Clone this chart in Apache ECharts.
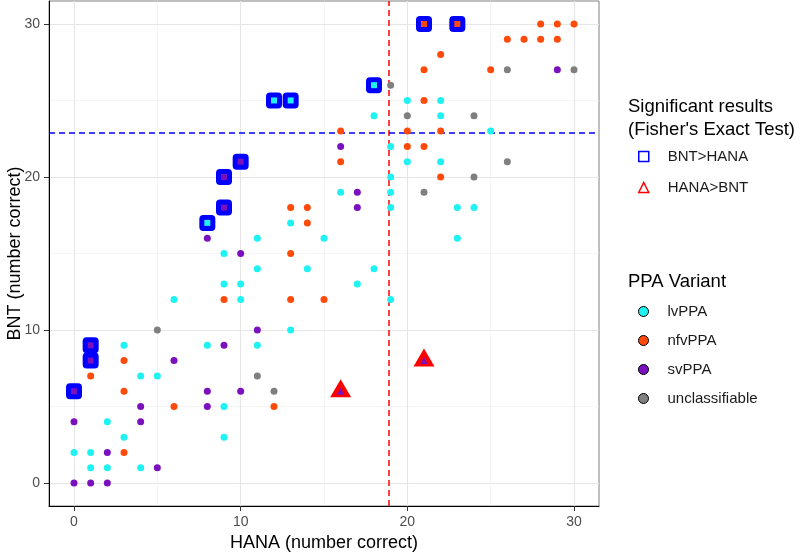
<!DOCTYPE html>
<html>
<head>
<meta charset="utf-8">
<script src="https://cdn.jsdelivr.net/npm/echarts@6/dist/echarts.min.js"></script>
<style>html,body{margin:0;padding:0;background:#fff}#c{width:800px;height:553px}</style>
</head>
<body>
<div id="c"></div>
<script>
// ---- data (HANA correct, BNT correct) ----
const lvPPA = [[12,25],[13,25],[8,17],[18,26],[20,25],[22,25],[18,24],[22,24],[25,23],[19,22],[20,21],[22,21],[19,20],[16,19],[19,19],[19,18],[23,18],[24,18],[13,17],[15,16],[23,16],[11,16],[9,15],[11,14],[14,14],[18,14],[9,13],[10,13],[17,13],[6,12],[10,12],[19,12],[13,10],[3,9],[8,9],[11,9],[4,7],[5,7],[9,5],[2,4],[3,3],[9,3],[0,2],[1,2],[1,1],[2,1],[4,1]];
const nfvPPA = [[21,30],[23,30],[28,30],[29,30],[30,30],[26,29],[27,29],[28,29],[29,29],[22,28],[21,27],[25,27],[21,25],[16,23],[20,23],[22,23],[20,22],[21,22],[16,21],[22,20],[13,18],[14,18],[14,17],[13,15],[9,12],[13,12],[15,12],[3,8],[1,7],[3,6],[6,5],[12,5],[3,2]];
const svPPA = [[10,21],[9,20],[9,18],[1,9],[1,8],[0,6],[16,6],[21,8],[29,27],[16,22],[17,19],[17,18],[8,16],[10,15],[11,10],[9,9],[6,8],[8,6],[10,6],[4,5],[8,5],[0,4],[4,4],[2,2],[5,1],[0,0],[1,0],[2,0]];
const unclassifiable = [[26,27],[30,27],[19,26],[20,24],[24,24],[26,21],[24,20],[21,19],[5,10],[11,7],[12,6]];
const sigBNT = [[0,6],[1,8],[1,9],[8,17],[9,18],[9,20],[10,21],[12,25],[13,25],[18,26],[21,30],[23,30]];
const sigHANA = [[16,6],[21,8]];
const hanaCut = 18.9;
const bntCut = 22.9;
const tickValues = [0,10,20,30];
const gridValues = [0,5,10,15,20,25,30];

const variantNames = ['lvPPA','nfvPPA','svPPA','unclassifiable'];
const variantData = [lvPPA, nfvPPA, svPPA, unclassifiable];
const variantColors = ['#1EF2F2','#FF4A0A','#7A10BE','#7F7F7F'];

const FONT = 'Liberation Sans, Arial, sans-serif';
const has = (list, p) => list.some(q => q[0] === p[0] && q[1] === p[1]);

function itemsFor(list) {
  return list.map(p => {
    if (has(sigBNT, p)) return { value: p, symbol: 'rect', symbolSize: 6 };
    if (has(sigHANA, p)) return { value: p, symbol: 'triangle', symbolSize: 7 };
    return { value: p };
  });
}

const gridLines = [];
gridValues.forEach(v => {
  const major = tickValues.includes(v);
  const ls = { color: major ? '#E6E6E6' : '#F0F0F0', width: major ? 1.2 : 0.7, type: 'solid' };
  gridLines.push({ xAxis: v, lineStyle: ls });
  gridLines.push({ yAxis: v, lineStyle: ls });
});

const series = [
  { name: 'grid', type: 'scatter', data: [], z: 0, silent: true,
    markLine: { z: 0, silent: true, symbol: ['none','none'], label: { show: false }, animation: false, data: gridLines } },
  { name: 'refs', type: 'scatter', data: [], z: 0, silent: true,
    markLine: { z: 1, silent: true, symbol: ['none','none'], label: { show: false }, animation: false,
      data: [
        { xAxis: hanaCut, lineStyle: { color: '#FF0000', width: 1.5, type: [6,4] } },
        { yAxis: bntCut, lineStyle: { color: '#0000FF', width: 1.5, type: [6,4] } }
      ] } },
  { name: 'BNT>HANA', type: 'scatter', data: sigBNT, symbol: 'roundRect', symbolSize: 16, z: 2,
    itemStyle: { color: '#0000FF', opacity: 1 } },
  { name: 'HANA>BNT', type: 'scatter', data: sigHANA, symbol: 'triangle', symbolSize: [21,18], symbolOffset: [0,-3], z: 2,
    itemStyle: { color: '#FF0000', opacity: 1 } },
];
variantNames.forEach((n, i) => {
  series.push({ name: n, type: 'scatter', data: itemsFor(variantData[i]), symbol: 'circle', symbolSize: 7, z: 3,
    itemStyle: { color: variantColors[i], opacity: 1 } });
});

const legendText = { fontFamily: FONT, fontSize: 15, color: '#1A1A1A', padding: [0,0,0,14] };

const option = {
  animation: false,
  grid: { left: 49, right: 201, top: 1, bottom: 47, containLabel: false, outerBoundsMode: 'none',
    show: true, borderColor: '#7F7F7F', borderWidth: 1, backgroundColor: '#fff' },
  xAxis: {
    type: 'value', min: -1.5, max: 31.5,
    name: 'HANA (number correct)', nameLocation: 'middle', nameGap: 27,
    nameTextStyle: { fontFamily: FONT, fontSize: 18, color: '#000' },
    axisLine: { show: true, onZero: false, lineStyle: { color: '#000', width: 1 } },
    axisTick: { show: true, customValues: tickValues, length: 5, lineStyle: { color: '#333' } },
    axisLabel: { customValues: tickValues, fontFamily: FONT, fontSize: 14, color: '#4D4D4D', margin: 9 },
    splitLine: { show: false }
  },
  yAxis: {
    type: 'value', min: -1.5, max: 31.5,
    name: 'BNT (number correct)', nameLocation: 'middle', nameGap: 25, nameRotate: 90, nameMoveOverlap: false,
    nameTextStyle: { fontFamily: FONT, fontSize: 18, color: '#000' },
    axisLine: { show: true, onZero: false, lineStyle: { color: '#000', width: 1 } },
    axisTick: { show: true, customValues: tickValues, length: 5, lineStyle: { color: '#333' } },
    axisLabel: { customValues: tickValues, fontFamily: FONT, fontSize: 14, color: '#4D4D4D', margin: 9 },
    splitLine: { show: false }
  },
  legend: [
    { orient: 'vertical', left: 638, top: 149, padding: 0, itemWidth: 10, itemHeight: 10, itemGap: 16,
      selectedMode: false, textStyle: legendText,
      data: [
        { name: 'BNT>HANA', icon: 'rect', itemStyle: { color: 'rgba(0,0,0,0)', borderColor: '#0000FF', borderWidth: 1.5 } },
        { name: 'HANA>BNT', icon: 'triangle', itemStyle: { color: 'rgba(0,0,0,0)', borderColor: '#FF0000', borderWidth: 1.5 } }
      ] },
    { orient: 'vertical', left: 638, top: 304, padding: 0, itemWidth: 10, itemHeight: 10, itemGap: 14,
      selectedMode: false, textStyle: legendText,
      data: variantNames.map((n, i) => ({ name: n, icon: 'circle', itemStyle: { color: variantColors[i], borderColor: '#000', borderWidth: 1 } })) }
  ],
  graphic: [
    { type: 'text', left: 628, top: 95, style: { text: 'Significant results\n(Fisher\'s Exact Test)', font: '18.5px ' + FONT, fill: '#000', lineHeight: 23 } },
    { type: 'text', left: 628, top: 272, style: { text: 'PPA Variant', font: '18.5px ' + FONT, fill: '#000' } }
  ],
  series: series
};

echarts.init(document.getElementById('c'), null, { renderer: 'canvas' }).setOption(option);
</script>
</body>
</html>
